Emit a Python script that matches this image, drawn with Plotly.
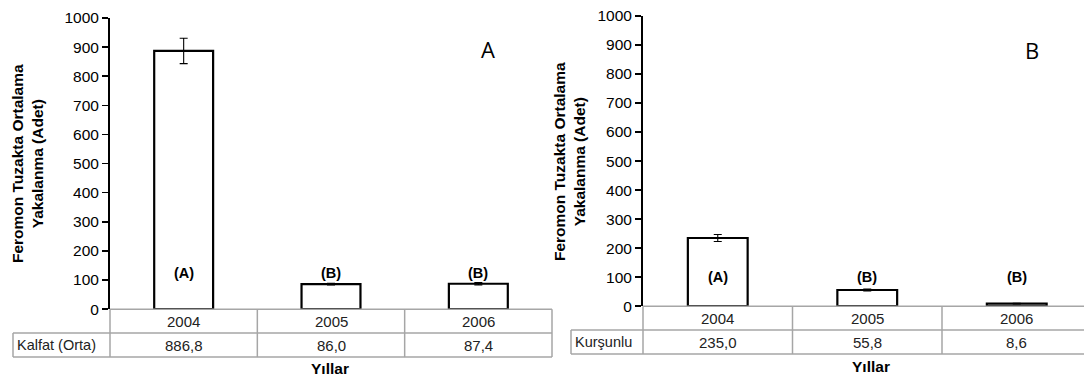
import plotly.graph_objects as go

W, H = 1084, 381

years = ["2004", "2005", "2006"]
kalfat_vals = [886.8, 86.0, 87.4]
kalfat_err = [43.5, 3.0, 4.0]
kalfat_letters = ["(A)", "(B)", "(B)"]
kursunlu_vals = [235.0, 55.8, 8.6]
kursunlu_err = [12.0, 3.0, 1.0]
kursunlu_letters = ["(A)", "(B)", "(B)"]
y_ticks = [0, 100, 200, 300, 400, 500, 600, 700, 800, 900, 1000]

# effective drawing area observed in the renderer (top offset / height)
TOP, HEFF = 8.0, 365.0

def fmt(v):
    return f"{v:.1f}".replace(".", ",")

def px(x):
    return x / W

def py(y):
    return 1 - (y - TOP) / HEFF

FONT = "Liberation Sans, Arial, sans-serif"
GREY = "#a6a6a6"

fig = go.Figure()

panels = [
    dict(xa="x", ya="y", vals=kalfat_vals, err=kalfat_err, letters=kalfat_letters,
         label="Kalfat (Orta)", left=110, right=552, y0=309, y1=17, cell_left=13,
         letter_y=125, tag="A", tag_x=488, tag_y=48, title_x=27.5, title_y=163,
         xt_x=330, xt_y=368, vis_cols=3.0),
    dict(xa="x2", ya="y2", vals=kursunlu_vals, err=kursunlu_err, letters=kursunlu_letters,
         label="Kurşunlu", left=643, right=1084, y0=306, y1=15, cell_left=571,
         letter_y=100, tag="B", tag_x=1032, tag_y=49, title_x=569.5, title_y=161,
         xt_x=871, xt_y=366, vis_cols=(1084 - 643) / 149.5),
]

layout = dict(
    width=W, height=H, margin=dict(l=0, r=0, t=0, b=0),
    paper_bgcolor="white", plot_bgcolor="white", showlegend=False,
    font=dict(family=FONT, size=15, color="black"),
)
shapes = []
annotations = []

for i, p in enumerate(panels):
    sfx = "" if i == 0 else "2"
    idx = list(range(len(years)))
    fig.add_trace(go.Bar(
        x=idx, y=p["vals"], xaxis=p["xa"], yaxis=p["ya"], width=0.4,
        marker=dict(color="white", line=dict(color="black", width=2.2)),
        error_y=dict(type="data", array=p["err"], visible=True, color="black",
                     thickness=1.1, width=4),
        hoverinfo="skip",
    ))
    colw = (p["right"] - p["left"]) / p["vis_cols"]
    layout["xaxis" + sfx] = dict(
        domain=[px(p["left"]), px(p["right"])], anchor=p["ya"],
        range=[-0.5, -0.5 + p["vis_cols"]], showticklabels=False, ticks="",
        showline=False, showgrid=False, zeroline=False, fixedrange=True,
    )
    layout["yaxis" + sfx] = dict(
        domain=[py(p["y0"]), py(p["y1"])], anchor=p["xa"], range=[0, 1000],
        tickvals=y_ticks, ticks="outside", ticklen=6, tickwidth=1.5, tickcolor="black",
        showline=True, linecolor="black", linewidth=2, showgrid=False, zeroline=False,
        tickfont=dict(family=FONT, size=15.5, color="black"), fixedrange=True,
    )
    r0 = p["y0"]
    r1 = r0 + 24
    r2 = r1 + 24
    right_edge = p["left"] + 3 * colw
    shapes.append(dict(type="line", xref="paper", yref="paper", x0=px(p["left"]), x1=px(min(right_edge, W)),
                       y0=py(r0), y1=py(r0), line=dict(color=GREY, width=1.5)))
    for rr in (r1, r2):
        shapes.append(dict(type="line", xref="paper", yref="paper", x0=px(p["cell_left"]),
                           x1=px(min(right_edge, W)), y0=py(rr), y1=py(rr),
                           line=dict(color=GREY, width=1.5)))
    shapes.append(dict(type="line", xref="paper", yref="paper", x0=px(p["left"]), x1=px(p["left"]),
                       y0=py(r0), y1=py(r2), line=dict(color=GREY, width=1.5)))
    shapes.append(dict(type="line", xref="paper", yref="paper", x0=px(p["cell_left"]), x1=px(p["cell_left"]),
                       y0=py(r1), y1=py(r2), line=dict(color=GREY, width=1.5)))
    for k in range(1, 4):
        xx = p["left"] + k * colw
        if xx <= W:
            shapes.append(dict(type="line", xref="paper", yref="paper", x0=px(xx), x1=px(xx),
                               y0=py(r0), y1=py(r2), line=dict(color=GREY, width=1.5)))
    for j, (yr, v) in enumerate(zip(years, p["vals"])):
        annotations.append(dict(x=j, y=py((r0 + r1) / 2), xref=p["xa"], yref="paper",
                                text=yr, showarrow=False, font=dict(size=15, color="#222"),
                                xanchor="center", yanchor="middle"))
        annotations.append(dict(x=j, y=py((r1 + r2) / 2), xref=p["xa"], yref="paper",
                                text=fmt(v), showarrow=False, font=dict(size=15, color="#222"),
                                xanchor="center", yanchor="middle"))
    annotations.append(dict(x=px(p["cell_left"] + 2), y=py((r1 + r2) / 2), xref="paper", yref="paper",
                            text=p["label"], showarrow=False, font=dict(size=14.5, color="#222"),
                            xanchor="left", yanchor="middle"))
    for j, lt in enumerate(p["letters"]):
        annotations.append(dict(x=j, y=p["letter_y"], xref=p["xa"], yref=p["ya"], text="<b>" + lt + "</b>",
                                showarrow=False, font=dict(size=14.5, color="black"),
                                xanchor="center", yanchor="middle"))
    annotations.append(dict(x=px(p["tag_x"]), y=py(p["tag_y"]), xref="paper", yref="paper", text=p["tag"],
                            showarrow=False, font=dict(family="Open Sans, sans-serif", size=22, color="black"),
                            xanchor="center", yanchor="middle"))
    annotations.append(dict(x=px(p["title_x"]), y=py(p["title_y"]), xref="paper", yref="paper",
                            text="<b>Feromon Tuzakta Ortalama<br>Yakalanma (Adet)</b>", textangle=-90,
                            showarrow=False, font=dict(size=15.5, color="black"),
                            xanchor="center", yanchor="middle"))
    annotations.append(dict(x=px(p["xt_x"]), y=py(p["xt_y"]), xref="paper", yref="paper",
                            text="<b>Yıllar</b>", showarrow=False, font=dict(size=15.5, color="black"),
                            xanchor="center", yanchor="middle"))

layout["shapes"] = shapes
layout["annotations"] = annotations
fig.update_layout(**layout)
fig.write_html("out.html", config={"displayModeBar": False, "staticPlot": True},
               post_script="document.body.style.margin='0';document.body.style.overflow='hidden';")
